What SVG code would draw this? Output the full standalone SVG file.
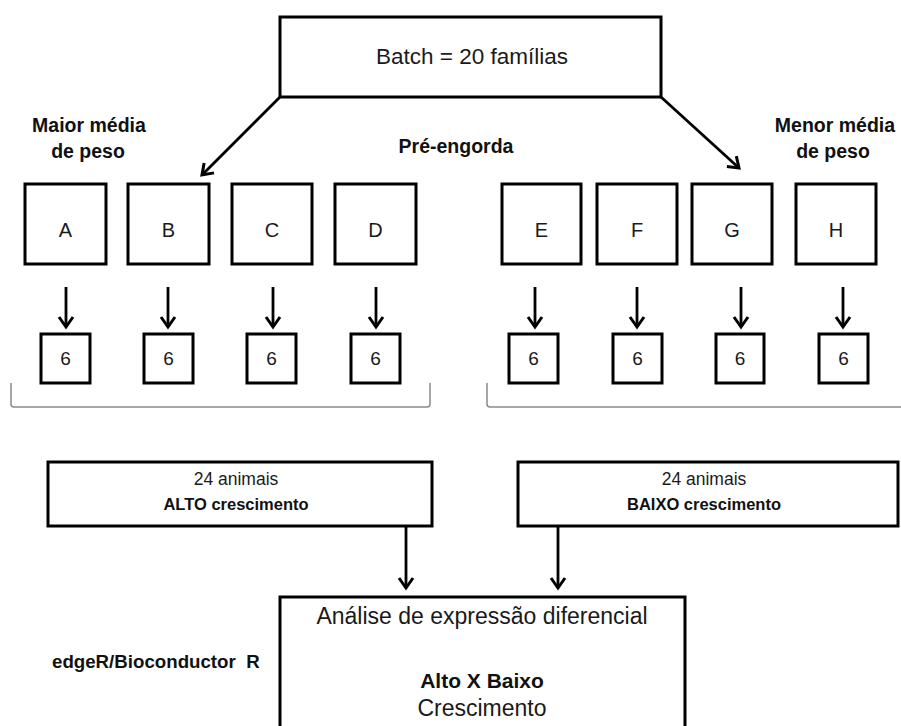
<svg xmlns="http://www.w3.org/2000/svg" width="901" height="726" viewBox="0 0 901 726">
  <style>
    .box { fill: #ffffff; stroke: #000000; stroke-width: 3; }
    .reg { font-family: "Liberation Sans", Arial, sans-serif; fill: #1a1a1a; text-anchor: middle; }
    .bold { font-family: "Liberation Sans", Arial, sans-serif; font-weight: bold; fill: #111111; text-anchor: middle; }
    .left { text-anchor: start; }
    .wire { stroke: #000000; stroke-width: 2.8; fill: none; }
    .brace { stroke: #8a8a8a; stroke-width: 1.5; fill: none; }
  </style>
  <defs>
    <marker id="head" markerUnits="userSpaceOnUse" markerWidth="20" markerHeight="20" refX="12" refY="8" orient="auto" overflow="visible">
      <path d="M2,1 L12,8 L2,15" fill="none" stroke="#000000" stroke-width="3" stroke-linejoin="miter"/>
    </marker>
  </defs>
  <rect width="901" height="726" fill="#ffffff"/>

  <g id="batch">
    <rect class="box" x="280" y="17" width="381" height="80"/>
    <text class="reg" x="472" y="64" font-size="22.5">Batch = 20 famílias</text>
  </g>

  <g id="labels">
    <text class="bold" x="89" y="132" font-size="19.5">Maior média</text>
    <text class="bold" x="88" y="158" font-size="19.5">de peso</text>
    <text class="bold" x="456" y="153" font-size="19.5">Pré-engorda</text>
    <text class="bold" x="835" y="132" font-size="19.5">Menor média</text>
    <text class="bold" x="833" y="158" font-size="19.5">de peso</text>
  </g>

  <g id="fam-A"><rect class="box" x="25" y="184" width="81" height="80"/><text class="reg" x="65.5" y="237" font-size="20">A</text></g>
  <g id="fam-B"><rect class="box" x="128" y="184" width="81" height="80"/><text class="reg" x="168.5" y="237" font-size="20">B</text></g>
  <g id="fam-C"><rect class="box" x="232" y="184" width="80" height="80"/><text class="reg" x="272" y="237" font-size="20">C</text></g>
  <g id="fam-D"><rect class="box" x="335" y="184" width="81" height="80"/><text class="reg" x="375.5" y="237" font-size="20">D</text></g>
  <g id="fam-E"><rect class="box" x="502" y="184" width="79" height="80"/><text class="reg" x="541.5" y="237" font-size="20">E</text></g>
  <g id="fam-F"><rect class="box" x="597" y="184" width="80" height="80"/><text class="reg" x="637" y="237" font-size="20">F</text></g>
  <g id="fam-G"><rect class="box" x="692" y="184" width="80" height="80"/><text class="reg" x="732" y="237" font-size="20">G</text></g>
  <g id="fam-H"><rect class="box" x="796" y="184" width="80" height="80"/><text class="reg" x="836" y="237" font-size="20">H</text></g>

  <g id="n-A"><rect class="box" x="41" y="334" width="49" height="49"/><text class="reg" x="65.5" y="365" font-size="19">6</text></g>
  <g id="n-B"><rect class="box" x="144" y="334" width="49" height="49"/><text class="reg" x="168.5" y="365" font-size="19">6</text></g>
  <g id="n-C"><rect class="box" x="247" y="334" width="49" height="49"/><text class="reg" x="271.5" y="365" font-size="19">6</text></g>
  <g id="n-D"><rect class="box" x="351" y="334" width="49" height="49"/><text class="reg" x="375.5" y="365" font-size="19">6</text></g>
  <g id="n-E"><rect class="box" x="509" y="334" width="49" height="49"/><text class="reg" x="533.5" y="365" font-size="19">6</text></g>
  <g id="n-F"><rect class="box" x="613" y="334" width="49" height="49"/><text class="reg" x="637.5" y="365" font-size="19">6</text></g>
  <g id="n-G"><rect class="box" x="716" y="334" width="48" height="49"/><text class="reg" x="740" y="365" font-size="19">6</text></g>
  <g id="n-H"><rect class="box" x="819" y="334" width="49" height="49"/><text class="reg" x="843.5" y="365" font-size="19">6</text></g>

  <g id="braces">
    <path class="brace" d="M11,383 V404 Q11,407 14,407 H427 Q430,407 430,404 V383"/>
    <path class="brace" d="M487,383 V404 Q487,407 490,407 H905"/>
  </g>

  <g id="alto">
    <rect class="box" x="48" y="462" width="384" height="64"/>
    <text class="reg" x="236" y="485" font-size="17.5">24 animais</text>
    <text class="bold" x="236" y="510" font-size="16.5">ALTO crescimento</text>
  </g>

  <g id="baixo">
    <rect class="box" x="518" y="462" width="380" height="64"/>
    <text class="reg" x="704" y="485" font-size="17.5">24 animais</text>
    <text class="bold" x="704" y="510" font-size="16.5">BAIXO crescimento</text>
  </g>

  <g id="tool">
    <text class="bold left" x="52" y="668" font-size="18.7" xml:space="preserve">edgeR/Bioconductor  R</text>
  </g>

  <g id="analise">
    <rect class="box" x="280" y="597" width="405" height="150"/>
    <text class="reg" x="482" y="624" font-size="23">Análise de expressão diferencial</text>
    <text class="bold" x="482" y="688" font-size="21">Alto X Baixo</text>
    <text class="reg" x="482" y="716" font-size="23">Crescimento</text>
  </g>

  <g id="connectors">
    <line class="wire" x1="280" y1="97" x2="202" y2="175" marker-end="url(#head)"/>
    <line class="wire" x1="661" y1="97" x2="739" y2="168" marker-end="url(#head)"/>
    <line class="wire" x1="66" y1="287" x2="66" y2="327" marker-end="url(#head)"/>
    <line class="wire" x1="168" y1="287" x2="168" y2="327" marker-end="url(#head)"/>
    <line class="wire" x1="273" y1="287" x2="273" y2="327" marker-end="url(#head)"/>
    <line class="wire" x1="376" y1="287" x2="376" y2="327" marker-end="url(#head)"/>
    <line class="wire" x1="535" y1="287" x2="535" y2="327" marker-end="url(#head)"/>
    <line class="wire" x1="637" y1="287" x2="637" y2="327" marker-end="url(#head)"/>
    <line class="wire" x1="741" y1="287" x2="741" y2="327" marker-end="url(#head)"/>
    <line class="wire" x1="843" y1="287" x2="843" y2="327" marker-end="url(#head)"/>
    <line class="wire" x1="406" y1="526" x2="406" y2="588" marker-end="url(#head)"/>
    <line class="wire" x1="558" y1="526" x2="558" y2="588" marker-end="url(#head)"/>
  </g>
</svg>
